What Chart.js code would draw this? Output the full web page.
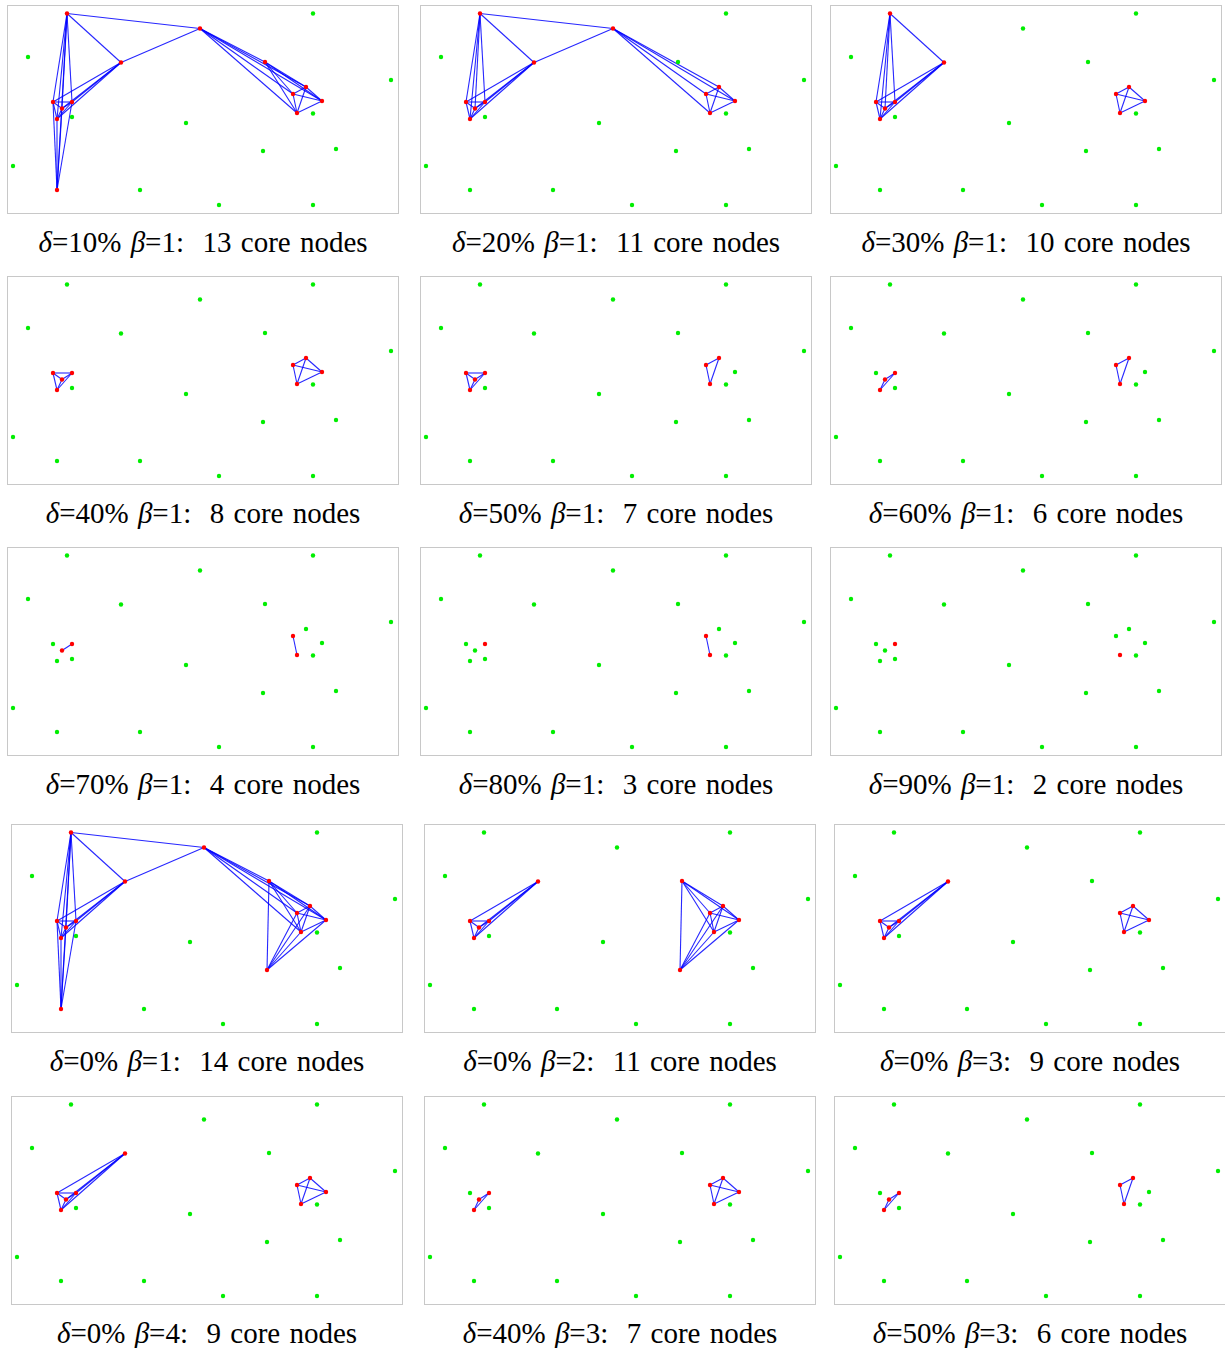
<!DOCTYPE html>
<html>
<head>
<meta charset="utf-8">
<script src="https://cdn.jsdelivr.net/npm/chart.js@4.4.0/dist/chart.umd.min.js"></script>
<style>
  html, body { margin: 0; padding: 0; background: #fff; }
  body { width: 1225px; height: 1348px; position: relative; overflow: hidden; }
  .panel { position: absolute; width: 392px; height: 209px; }
  .caption {
    position: absolute; width: 440px; text-align: center; white-space: pre;
    font-family: "Liberation Serif", "Times New Roman", serif; font-size: 29px;
    line-height: 29px; word-spacing: 2px; color: #000;
  }
</style>
</head>
<body>
<script>
// Node layout of the network (pixels inside a panel frame, origin top-left)
const nodeNames = ['A','B','C','D','E','F','G','H','I','J','K','L','M','N','O','P','Q','R','S','T','U','V','W','X','Y'];
const nodeX = [60, 193, 114, 21, 306, 384, 258, 299, 286, 315, 290, 306, 46, 65, 55, 50, 65, 179, 256, 329, 6, 50, 133, 212, 306];
const nodeY = [8.5, 23.5, 57.5, 52, 8.5, 75, 57, 82, 89, 96, 108, 108.5, 97, 97, 103.5, 114, 112, 118, 146, 144, 161, 185, 185, 200, 200];

// One entry per panel, in reading order
const panelDelta = [10, 20, 30, 40, 50, 60, 70, 80, 90, 0, 0, 0, 0, 40, 50];
const panelBeta = [1, 1, 1, 1, 1, 1, 1, 1, 1, 1, 2, 3, 4, 3, 3];
const panelCoreCount = [13, 11, 10, 8, 7, 6, 4, 3, 2, 14, 11, 9, 9, 7, 6];

// core nodes (red) per panel
const panelCore = [
  'A B C G H I J K M N O P V',
  'A B C H I J K M N O P',
  'A C H I J K M N O P',
  'H I J K M N O P',
  'H I K M N O P',
  'H I K N O P',
  'I K N O',
  'I K N',
  'K N',
  'A B C G H I J K M N O P S V',
  'C G H I J K M N O P S',
  'C H I J K M N O P',
  'C H I J K M N O P',
  'H I J K N O P',
  'H I K N O P'
];

// links between core nodes per panel
const panelEdges = [
  'AB AC AM AN AO AP AV BC BG BH BI BJ BK CM CN CO CP MN MO MP NO NP OP VM VN VO VP GH GI GJ GK HI HJ HK IJ IK JK',
  'AB AC AM AN AO AP BC BH BI BJ BK CM CN CO CP MN MO MP NO NP OP HI HJ HK IJ IK JK',
  'AC AM AN AO AP CM CN CO CP MN MO MP NO NP OP HI HJ HK IJ IK JK',
  'MN MO MP NO NP OP HI HJ HK IJ IK JK',
  'MN MO MP NO NP OP HI HK IK',
  'NO NP OP HI HK IK',
  'NO IK',
  'IK',
  '',
  'AB AC AM AN AO AP AV BC BG BH BI BJ BK CM CN CO CP MN MO MP NO NP OP VM VN VO VP GH GI GJ GK GS SH SI SJ SK HI HJ HK IJ IK JK',
  'CM CN CO CP MN MO MP NO NP OP GH GI GJ GK GS SH SI SJ SK HI HJ HK IJ IK JK',
  'CM CN CO CP MN MO MP NO NP OP HI HJ HK IJ IK JK',
  'CM CN CO CP MN MO MP NO NP OP HI HJ HK IJ IK JK',
  'NO NP OP HI HJ HK IJ IK JK',
  'NO NP OP HI HK IK'
];

// page layout
const panelLeft = [7, 420, 830, 7, 420, 830, 7, 420, 830, 11, 424, 834, 11, 424, 834];
const panelTop = [5, 5, 5, 276, 276, 276, 547, 547, 547, 824, 824, 824, 1096, 1096, 1096];

const pointOf = name => {
  const i = nodeNames.indexOf(name);
  return { x: nodeX[i], y: nodeY[i] };
};

// light grey frame round every panel
const framePlugin = {
  id: 'frame',
  afterDraw(chart) {
    const ctx = chart.ctx;
    ctx.save();
    ctx.strokeStyle = '#c8c8c8';
    ctx.lineWidth = 1;
    ctx.strokeRect(0.5, 0.5, chart.width - 1, chart.height - 1);
    ctx.restore();
  }
};

function drawPanel(p) {
  const box = document.createElement('div');
  box.className = 'panel';
  box.style.left = panelLeft[p] + 'px';
  box.style.top = panelTop[p] + 'px';
  const canvas = document.createElement('canvas');
  canvas.width = 392;
  canvas.height = 209;
  box.appendChild(canvas);
  document.body.appendChild(box);

  const core = panelCore[p].split(' ').filter(s => s);
  const others = nodeNames.filter(n => !core.includes(n));

  const datasets = [
    {
      data: core.map(pointOf),
      pointRadius: 2.2, pointBorderWidth: 0,
      pointBackgroundColor: '#ff0000', showLine: false
    },
    {
      data: others.map(pointOf),
      pointRadius: 2.2, pointBorderWidth: 0,
      pointBackgroundColor: '#00ee00', showLine: false
    }
  ];

  panelEdges[p].split(' ').filter(s => s).forEach(e => {
    datasets.push({
      data: [pointOf(e[0]), pointOf(e[1])],
      showLine: true, pointRadius: 0,
      borderColor: 'rgba(0,0,255,0.85)', borderWidth: 1.1
    });
  });

  new Chart(canvas, {
    type: 'scatter',
    data: { datasets },
    options: {
      responsive: false,
      animation: false,
      events: [],
      layout: { padding: 0, autoPadding: false },
      plugins: { legend: { display: false }, tooltip: { enabled: false } },
      scales: {
        x: { type: 'linear', display: false, min: 0, max: 392 },
        y: { type: 'linear', display: false, min: 0, max: 209, reverse: true }
      }
    },
    plugins: [framePlugin]
  });

  const cap = document.createElement('div');
  cap.className = 'caption';
  cap.style.left = (panelLeft[p] + 196 - 220) + 'px';
  cap.style.top = (panelTop[p] + 208 + 39 - 24) + 'px';
  cap.innerHTML = '<i>\u03b4</i>=' + panelDelta[p] + '% <i>\u03b2</i>=' + panelBeta[p] +
    ':  ' + panelCoreCount[p] + ' core nodes';
  document.body.appendChild(cap);
}

for (let p = 0; p < panelDelta.length; p++) drawPanel(p);
</script>
</body>
</html>
